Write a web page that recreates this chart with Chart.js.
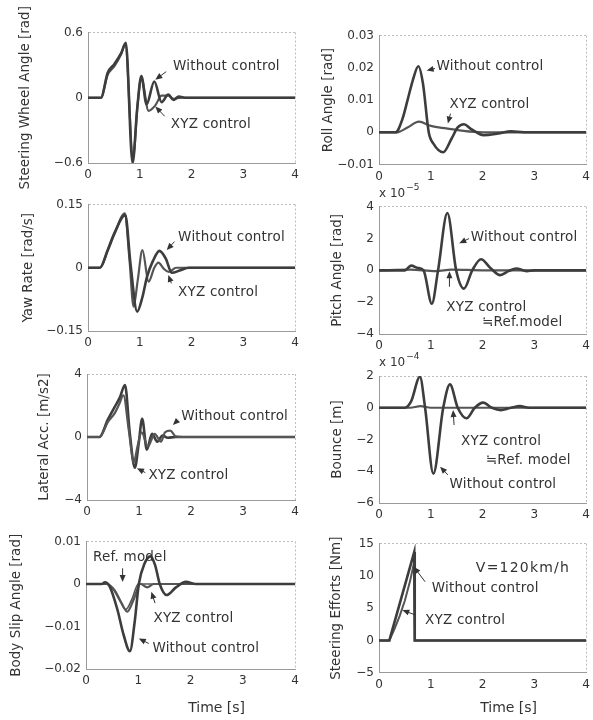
<!DOCTYPE html>
<html>
<head>
<meta charset="utf-8">
<title>Vehicle response, V=120km/h</title>
<script src="https://cdn.jsdelivr.net/npm/chart.js@4.4.1/dist/chart.umd.min.js"></script>
<style>
  body { margin: 0; background: #fff; width: 593px; height: 720px; overflow: hidden; position: relative; }
  canvas { position: absolute; }
</style>
</head>
<body>
<script>
// shared time axis
const timeTicks = [0, 1, 2, 3, 4];

// steering wheel angle [rad]
const steerTicks = [-0.6, 0, 0.6];
const steerWithoutT = [0, 0.25, 0.38, 0.51, 0.64, 0.73, 0.86, 0.95, 1.03, 1.13, 1.28, 1.42, 1.55, 1.65, 1.75, 1.9, 2.2, 4];
const steerWithoutV = [0, 0, 0.23, 0.31, 0.41, 0.505, -0.6, -0.1, 0.2, -0.06, 0.15, -0.04, 0.03, -0.02, 0.01, 0, 0, 0];
const steerXyzT = [0, 0.25, 0.38, 0.51, 0.64, 0.72, 0.87, 0.96, 1.03, 1.17, 1.3, 1.42, 1.55, 1.65, 1.8, 4];
const steerXyzV = [0, 0, 0.21, 0.29, 0.4, 0.49, -0.55, -0.05, 0.18, -0.12, -0.07, 0.02, 0.02, -0.01, 0, 0];

// roll angle [rad]
const rollTicks = [-0.01, 0, 0.01, 0.02, 0.03];
const rollWithoutT = [0, 0.32, 0.45, 0.55, 0.65, 0.76, 0.85, 0.96, 1.05, 1.24, 1.4, 1.52, 1.64, 1.78, 2.02, 2.3, 2.55, 2.8, 4];
const rollWithoutV = [0, 0, 0.004, 0.0099, 0.016, 0.0205, 0.015, 0, -0.0035, -0.0062, -0.002, 0.0015, 0.0025, 0.001, -0.0009, -0.0004, 0.0003, 0, 0];
const rollXyzT = [0, 0.35, 0.55, 0.77, 1.0, 1.3, 1.6, 2.0, 4];
const rollXyzV = [0, 0, 0.0015, 0.0033, 0.002, 0.0012, 0.0005, 0, 0];

// yaw rate [rad/s]
const yawTicks = [-0.15, 0, 0.15];
const yawWithoutT = [0, 0.23, 0.38, 0.51, 0.72, 0.82, 0.95, 1.05, 1.14, 1.25, 1.38, 1.5, 1.62, 1.78, 1.95, 4];
const yawWithoutV = [0, 0, 0.042, 0.082, 0.125, 0.01, -0.104, -0.07, -0.021, 0.015, 0.04, 0.022, -0.012, -0.006, 0, 0];
const yawXyzT = [0, 0.23, 0.38, 0.51, 0.71, 0.8, 0.88, 0.96, 1.05, 1.17, 1.28, 1.36, 1.46, 1.56, 1.7, 4];
const yawXyzV = [0, 0, 0.04, 0.08, 0.129, 0.02, -0.092, -0.03, 0.042, -0.033, 0, 0.012, -0.002, -0.01, 0, 0];

// pitch angle [x 10^-5 rad]
const pitchTicks = [-4, -2, 0, 2, 4];
const pitchWithoutT = [0, 0.5, 0.62, 0.75, 0.86, 1.02, 1.14, 1.32, 1.49, 1.64, 1.8, 1.97, 2.15, 2.34, 2.5, 2.65, 2.85, 3.0, 4];
const pitchWithoutV = [0, 0, 0.3, 0.15, 0, -2.1, 0, 3.6, 0, -1.15, 0, 0.7, 0.15, -0.3, -0.05, 0.12, -0.05, 0, 0];
const pitchXyzT = [0, 0.6, 1.1, 1.4, 2.0, 4];
const pitchXyzV = [0, 0.05, -0.05, 0.05, 0, 0];

// lateral acceleration [m/s2]
const latTicks = [-4, 0, 4];
const latWithoutT = [0, 0.24, 0.4, 0.53, 0.62, 0.7, 0.8, 0.9, 0.97, 1.05, 1.17, 1.3, 1.42, 1.5, 1.6, 1.7, 1.85, 4];
const latWithoutV = [0, 0, 0.95, 1.5, 2.1, 2.65, 0.5, -1.6, -0.6, 0.3, -0.6, 0.2, -0.3, 0.3, 0.4, 0.05, 0, 0];
const latXyzT = [0, 0.24, 0.4, 0.53, 0.63, 0.73, 0.82, 0.92, 0.99, 1.06, 1.15, 1.25, 1.35, 1.45, 1.55, 1.7, 4];
const latXyzV = [0, 0, 1.1, 1.9, 2.5, 3.3, 0.3, -1.95, -0.5, 1.15, -0.8, 0.2, -0.3, 0.1, -0.05, 0, 0];

// bounce [x 10^-4 m]
const bounceTicks = [-6, -4, -2, 0, 2];
const bounceWithoutT = [0, 0.5, 0.62, 0.79, 0.89, 1.05, 1.24, 1.37, 1.52, 1.69, 1.85, 2.01, 2.18, 2.35, 2.55, 2.72, 2.9, 4];
const bounceWithoutV = [0, 0, 0.4, 1.95, 0, -4.15, 0, 1.47, 0, -0.66, 0, 0.32, 0, -0.15, 0, 0.1, 0, 0];
const bounceXyzT = [0, 0.6, 0.8, 1.0, 4];
const bounceXyzV = [0, 0, 0.1, 0, 0];

// body slip angle [rad]
const slipTicks = [-0.02, -0.01, 0, 0.01];
const slipWithoutT = [0, 0.3, 0.36, 0.45, 0.6, 0.72, 0.84, 0.93, 1.01, 1.12, 1.23, 1.32, 1.41, 1.54, 1.72, 1.91, 2.1, 4];
const slipWithoutV = [0, 0, 0.0004, -0.0005, -0.006, -0.012, -0.0158, -0.009, 0, 0.0048, 0.0065, 0.0045, 0, -0.0026, -0.0008, 0.0005, 0, 0];
const slipXyzT = [0, 0.4, 0.55, 0.68, 0.79, 0.9, 1.04, 1.17, 1.3, 4];
const slipXyzV = [0, 0, -0.0015, -0.0045, -0.0065, -0.004, 0, -0.0008, 0, 0];
const slipRefT = [0, 0.38, 0.52, 0.66, 0.76, 0.88, 1.0, 1.2, 4];
const slipRefV = [0, 0, -0.0013, -0.0042, -0.006, -0.0035, 0, 0, 0];

// steering efforts [Nm]
const effortTicks = [-5, 0, 5, 10, 15];
const effortWithoutT = [0, 0.2, 0.68, 0.69, 4];
const effortWithoutV = [0, 0, 13.7, 0, 0];
const effortXyzT = [0, 0.2, 0.3, 0.4, 0.5, 0.6, 0.68, 0.69, 4];
const effortXyzV = [0, 0, 1.8, 3.8, 6.2, 9.2, 12.2, 0, 0];

Chart.defaults.font.family = '"DejaVu Sans", sans-serif';
const ink = '#333';
const darkLine = '#3d3d3d';
const midLine = '#555';

const toPoints = (ts, vs) => ts.map((t, i) => ({ x: t, y: vs[i] }));
const minus = (v) => String(v).replace('-', '\u2212');

const drawArrow = (ctx, x1, y1, x2, y2) => {
	const a = Math.atan2(y2 - y1, x2 - x1);
	const len = 7, w = 3;
	ctx.lineWidth = 1;
	ctx.beginPath();
	ctx.moveTo(x1, y1);
	ctx.lineTo(x2 - len * Math.cos(a) * 0.6, y2 - len * Math.sin(a) * 0.6);
	ctx.stroke();
	ctx.beginPath();
	ctx.moveTo(x2, y2);
	ctx.lineTo(x2 - len * Math.cos(a) + w * Math.sin(a), y2 - len * Math.sin(a) - w * Math.cos(a));
	ctx.lineTo(x2 - len * Math.cos(a) - w * Math.sin(a), y2 - len * Math.sin(a) + w * Math.cos(a));
	ctx.closePath();
	ctx.fill();
};

// text labels, arrows, exponent and time label
const notesPlugin = {
	id: 'notes',
	afterDatasetsDraw(chart, args, opts) {
		const { ctx, chartArea } = chart;
		const xs = chart.scales.x;
		const ys = chart.scales.y;
		ctx.save();
		ctx.fillStyle = ink;
		ctx.strokeStyle = ink;
		ctx.textBaseline = 'middle';
		(opts.items || []).forEach((n) => {
			if (n.arrow) {
				const [ax, ay, hx, hy] = n.arrow;
				drawArrow(ctx, xs.getPixelForValue(ax), ys.getPixelForValue(ay), xs.getPixelForValue(hx), ys.getPixelForValue(hy));
				return;
			}
			ctx.font = (n.size || 13.5) + 'px "DejaVu Sans"';
			ctx.letterSpacing = (n.spacing || 0.2) + 'px';
			ctx.fillText(n.text, xs.getPixelForValue(n.x), ys.getPixelForValue(n.y));
		});
		ctx.letterSpacing = '0px';
		if (opts.exp) {
			ctx.font = '12px "DejaVu Sans"';
			ctx.fillText('x 10', chartArea.left, chartArea.top - 13);
			const w = ctx.measureText('x 10').width;
			ctx.font = '9px "DejaVu Sans"';
			ctx.fillText(opts.exp, chartArea.left + w + 1, chartArea.top - 19);
		}
		if (opts.xLabel) {
			ctx.font = '14px "DejaVu Sans"';
			ctx.textAlign = 'center';
			ctx.fillText(opts.xLabel, (chartArea.left + chartArea.right) / 2 + 26, opts.xLabelY);
		}
		ctx.restore();
	},
};

const panels = [
	{ col: 0, top: 32.5, bottom: 163, left: 88, right: 300, titleX: 25.5, yTitle: 'Steering Wheel Angle [rad]', yTicks: steerTicks,
		series: [
			{ t: steerWithoutT, v: steerWithoutV, color: darkLine, width: 2.6 },
			{ t: steerXyzT, v: steerXyzV, color: midLine, width: 2.2 },
		],
		notes: [
			{ text: 'Without control', x: 1.64, y: 0.286 },
			{ arrow: [1.51, 0.24, 1.3, 0.166] },
			{ text: 'XYZ control', x: 1.6, y: -0.25 },
			{ arrow: [1.48, -0.17, 1.3, -0.08] },
		] },
	{ col: 1, top: 35.7, bottom: 164.5, left: 379, right: 591, titleX: 328, yTitle: 'Roll Angle [rad]', yTicks: rollTicks,
		series: [
			{ t: rollWithoutT, v: rollWithoutV, color: darkLine, width: 2.6 },
			{ t: rollXyzT, v: rollXyzV, color: midLine, width: 2.2 },
		],
		notes: [
			{ text: 'Without control', x: 1.11, y: 0.0205 },
			{ arrow: [1.08, 0.0198, 0.92, 0.0192] },
			{ text: 'XYZ control', x: 1.36, y: 0.0087 },
			{ arrow: [1.38, 0.0058, 1.33, 0.0027] },
		] },
	{ col: 0, top: 204.5, bottom: 331, left: 88, right: 300, titleX: 28, yTitle: 'Yaw Rate [rad/s]', yTicks: yawTicks,
		series: [
			{ t: yawWithoutT, v: yawWithoutV, color: darkLine, width: 2.6 },
			{ t: yawXyzT, v: yawXyzV, color: midLine, width: 2.2 },
		],
		notes: [
			{ text: 'Without control', x: 1.74, y: 0.072 },
			{ arrow: [1.67, 0.062, 1.52, 0.042] },
			{ text: 'XYZ control', x: 1.74, y: -0.0586 },
			{ arrow: [1.61, -0.037, 1.55, -0.017] },
		] },
	{ col: 1, top: 206.7, bottom: 334, left: 379, right: 591, titleX: 337, yTitle: 'Pitch Angle [rad]', yTicks: pitchTicks, exp: '\u22125',
		series: [
			{ t: pitchWithoutT, v: pitchWithoutV, color: darkLine, width: 2.6 },
			{ t: pitchXyzT, v: pitchXyzV, color: midLine, width: 2.2 },
		],
		notes: [
			{ text: 'Without control', x: 1.77, y: 2.06 },
			{ arrow: [1.74, 2.0, 1.55, 1.7] },
			{ text: 'XYZ control', x: 1.3, y: -2.34 },
			{ text: '\u2252Ref.model', x: 1.99, y: -3.28 },
			{ arrow: [1.36, -1.03, 1.36, -0.05] },
		] },
	{ col: 0, top: 374, bottom: 500, left: 87, right: 300, titleX: 44, yTitle: 'Lateral Acc. [m/s2]', yTicks: latTicks,
		series: [
			{ t: latWithoutT, v: latWithoutV, color: midLine, width: 2.2 },
			{ t: latXyzT, v: latXyzV, color: darkLine, width: 2.6 },
		],
		notes: [
			{ text: 'Without control', x: 1.81, y: 1.33 },
			{ arrow: [1.75, 1.08, 1.65, 0.76] },
			{ text: 'XYZ control', x: 1.18, y: -2.47 },
			{ arrow: [1.12, -2.26, 0.96, -1.99] },
		] },
	{ col: 1, top: 376, bottom: 503, left: 379, right: 591, titleX: 337, yTitle: 'Bounce [m]', yTicks: bounceTicks, exp: '\u22124',
		series: [
			{ t: bounceWithoutT, v: bounceWithoutV, color: darkLine, width: 2.6 },
			{ t: bounceXyzT, v: bounceXyzV, color: midLine, width: 2.2 },
		],
		notes: [
			{ text: 'XYZ control', x: 1.585, y: -2.13 },
			{ text: '\u2252Ref. model', x: 2.06, y: -3.35 },
			{ arrow: [1.45, -1.09, 1.43, -0.14] },
			{ text: 'Without control', x: 1.36, y: -4.86 },
			{ arrow: [1.33, -4.23, 1.18, -3.71] },
		] },
	{ col: 0, top: 541.5, bottom: 669, left: 86, right: 300, titleX: 16, yTitle: 'Body Slip Angle [rad]', yTicks: slipTicks, bottomRow: true,
		series: [
			{ t: slipWithoutT, v: slipWithoutV, color: darkLine, width: 2.6 },
			{ t: slipXyzT, v: slipXyzV, color: midLine, width: 2.2 },
			{ t: slipRefT, v: slipRefV, color: midLine, width: 1.6 },
		],
		notes: [
			{ text: 'Ref. model', x: 0.136, y: 0.00624 },
			{ arrow: [0.7, 0.0037, 0.7, 0.0005] },
			{ text: 'XYZ control', x: 1.29, y: -0.0082 },
			{ arrow: [1.32, -0.0045, 1.25, -0.0018] },
			{ text: 'Without control', x: 1.27, y: -0.0151 },
			{ arrow: [1.2, -0.014, 1.01, -0.0128] },
		] },
	{ col: 1, top: 543.7, bottom: 672.7, left: 379, right: 591, titleX: 336.5, yTitle: 'Steering Efforts [Nm]', yTicks: effortTicks, bottomRow: true,
		series: [
			{ t: effortWithoutT, v: effortWithoutV, color: darkLine, width: 2.6, sharp: true },
			{ t: effortXyzT, v: effortXyzV, color: midLine, width: 2.0, sharp: true },
		],
		notes: [
			{ text: 'V=120km/h', x: 1.87, y: 11.24, size: 14, spacing: 1.2 },
			{ text: 'Without control', x: 1.02, y: 7.98 },
			{ arrow: [0.89, 9.1, 0.67, 11.44] },
			{ text: 'XYZ control', x: 0.89, y: 3.02 },
			{ arrow: [0.7, 3.95, 0.45, 4.73] },
		] },
];

const makePanel = (p) => {
	const canvasLeft = p.col === 0 ? 0 : 293;
	// extra room below so long axis titles are not cut
	const xh = p.bottomRow ? 50 : 32;
	// room above the plot for long axis titles and the exponent label
	const canvasTop = Math.max(0, Math.floor(p.top - 30));
	const w = Math.ceil(p.right - canvasLeft + 4);
	const h = Math.ceil(p.bottom - canvasTop + xh);
	const canvas = document.createElement('canvas');
	canvas.width = w;
	canvas.height = h;
	canvas.style.left = canvasLeft + 'px';
	canvas.style.top = canvasTop + 'px';
	canvas.style.width = w + 'px';
	canvas.style.height = h + 'px';
	document.body.appendChild(canvas);

	const yWidth = p.left - canvasLeft;
	const xHeight = h - (p.bottom - canvasTop);
	const yMin = p.yTicks[0];
	const yMax = p.yTicks[p.yTicks.length - 1];

	new Chart(canvas, {
		type: 'line',
		data: {
			datasets: p.series.map((s) => ({
				data: toPoints(s.t, s.v),
				borderColor: s.color,
				borderWidth: s.width,
				pointRadius: 0,
				fill: false,
				tension: 0,
				cubicInterpolationMode: s.sharp ? 'default' : 'monotone',
			})),
		},
		options: {
			responsive: false,
			animation: false,
			devicePixelRatio: 1,
			layout: { padding: { top: p.top - canvasTop, right: w - (p.right - canvasLeft), bottom: 0, left: 0 } },
			plugins: {
				legend: { display: false },
				tooltip: { enabled: false },
				notes: {
					items: p.notes,
					exp: p.exp,
					xLabel: p.bottomRow ? 'Time [s]' : null,
					xLabelY: 708 - canvasTop,
				},
			},
			scales: {
				x: {
					type: 'linear',
					min: 0,
					max: 4,
					afterBuildTicks: (s) => { s.ticks = timeTicks.map((v) => ({ value: v })); },
					afterFit: (s) => { s.height = xHeight; },
					ticks: { color: ink, font: { size: 12 }, padding: 5, maxRotation: 0, callback: (v) => minus(v) },
					grid: { drawTicks: false, color: (c) => (c.tick && c.tick.value === 4 ? '#bdbdbd' : 'rgba(0,0,0,0)') },
					border: { color: '#9a9a9a', dash: [2, 2] },
				},
				y: {
					type: 'linear',
					min: yMin,
					max: yMax,
					afterBuildTicks: (s) => { s.ticks = p.yTicks.map((v) => ({ value: v })); },
					afterFit: (s) => { s.width = yWidth; },
					ticks: { color: ink, font: { size: 12 }, padding: 5, callback: (v) => minus(v) },
					grid: { drawTicks: false, color: (c) => (c.tick && c.tick.value === yMax ? '#bdbdbd' : 'rgba(0,0,0,0)') },
					border: { color: '#9a9a9a', dash: [2, 2] },
					title: {
						display: true,
						text: p.yTitle,
						color: ink,
						font: { size: 13.5 },
						padding: { top: p.titleX - canvasLeft - 8.1, bottom: 0 },
					},
				},
			},
		},
		plugins: [notesPlugin],
	});
};

panels.forEach(makePanel);
</script>
</body>
</html>
